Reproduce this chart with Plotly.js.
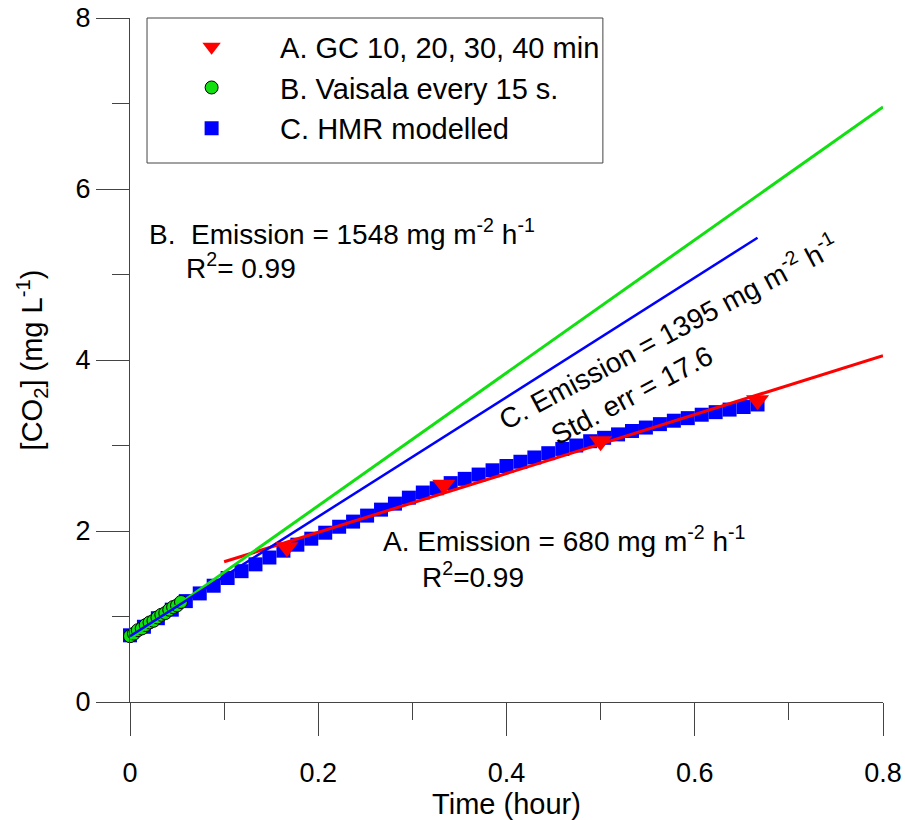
<!DOCTYPE html>
<html>
<head>
<meta charset="utf-8">
<script src="https://cdn.plot.ly/plotly-3.0.1.min.js"></script>
<style>html,body{margin:0;padding:0;background:#fff;}#chart{width:905px;height:820px;}</style>
</head>
<body>
<div id="chart"></div>
<script>
// ---- Data ----
// A. GC sampling at 10, 20, 30, 40 min
const gcTime = [0.1667, 0.3333, 0.5, 0.6667];
const gcCO2 = [1.81, 2.54, 3.05, 3.53];

// B. Vaisala probe every 15 s
const vaisalaTime = [0, 0.0042, 0.0083, 0.0125, 0.0167, 0.0208, 0.025, 0.0292, 0.0333, 0.0375, 0.0417, 0.0458, 0.05, 0.0542];
const vaisalaCO2 = [0.77, 0.80, 0.84, 0.86, 0.90, 0.93, 0.95, 0.99, 1.02, 1.04, 1.08, 1.11, 1.13, 1.17];

// C. HMR modelled
const hmrTime = [0, 0.0148, 0.0296, 0.0444, 0.0593, 0.0741, 0.0889, 0.1037, 0.1185, 0.1333,
  0.1481, 0.1630, 0.1778, 0.1926, 0.2074, 0.2222, 0.2370, 0.2519, 0.2667, 0.2815,
  0.2963, 0.3111, 0.3259, 0.3407, 0.3556, 0.3704, 0.3852, 0.4000, 0.4148, 0.4296,
  0.4444, 0.4593, 0.4741, 0.4889, 0.5037, 0.5185, 0.5333, 0.5481, 0.5630, 0.5778,
  0.5926, 0.6074, 0.6222, 0.6370, 0.6519, 0.6667];
const hmrCO2 = [0.78, 0.88, 0.98, 1.08, 1.18, 1.27, 1.36, 1.45, 1.53, 1.61,
  1.69, 1.77, 1.84, 1.91, 1.98, 2.05, 2.11, 2.18, 2.25, 2.32,
  2.39, 2.45, 2.50, 2.56, 2.61, 2.66, 2.71, 2.76, 2.81, 2.86,
  2.91, 2.96, 3.00, 3.05, 3.09, 3.13, 3.17, 3.21, 3.25, 3.29,
  3.32, 3.36, 3.39, 3.42, 3.45, 3.48];

// Fitted lines (end points)
const fitATime = [0.1, 0.8];
const fitACO2 = [1.64, 4.05];
const fitBTime = [0, 0.8];
const fitBCO2 = [0.74, 6.96];
const fitCTime = [0, 0.6667];
const fitCCO2 = [0.77, 5.43];

// Text
const legendNames = ["A. GC 10, 20, 30, 40 min", "B. Vaisala every 15 s.", "C. HMR modelled"];
const xTitle = "Time (hour)";
const yTitle = "[CO<sub>2</sub>] (mg L<sup>-1</sup>)";

const FONT = "Liberation Sans, Arial, sans-serif";
const FS = 27;   // tick labels
const FT = 29;   // titles, legend
const FA = 28;   // annotations
const GREEN = "#10e010";

const traces = [
  {x: hmrTime, y: hmrCO2, type: "scatter", mode: "markers", name: legendNames[2], legendrank: 3, legendgroup: "c",
   marker: {symbol: "square", size: 14, color: "#0000ff", line: {width: 0}}, cliponaxis: false},
  {x: vaisalaTime, y: vaisalaCO2, type: "scatter", mode: "markers", name: legendNames[1], legendrank: 2, legendgroup: "b",
   marker: {symbol: "circle", size: 13, color: GREEN, line: {width: 1, color: "#000"}}, cliponaxis: false},
  {x: fitATime, y: fitACO2, type: "scatter", mode: "lines", showlegend: false, line: {color: "#ff0000", width: 3}, cliponaxis: false},
  {x: fitBTime, y: fitBCO2, type: "scatter", mode: "lines", showlegend: false, line: {color: GREEN, width: 3}, cliponaxis: false},
  {x: fitCTime, y: fitCCO2, type: "scatter", mode: "lines", showlegend: false, line: {color: "#0000ff", width: 2.5}, cliponaxis: false},
  {x: gcTime, y: gcCO2, type: "scatter", mode: "markers", name: legendNames[0], legendrank: 1, legendgroup: "a",
   marker: {symbol: "triangle-down", size: 20, color: "#ff0000", line: {width: 0}}, cliponaxis: false}
];

const axisCommon = {
  showgrid: false, zeroline: false, showline: true, linecolor: "#444", linewidth: 1,
  ticks: "outside", ticklen: 33, tickwidth: 1, tickcolor: "#444",
  tickfont: {family: FONT, size: FS, color: "#000"}
};

const layout = {
  width: 905, height: 820,
  margin: {l: 130, r: 22, t: 18, b: 118, pad: 0},
  paper_bgcolor: "#fff", plot_bgcolor: "#fff",
  font: {family: FONT, size: FS, color: "#000"},
  showlegend: true,
  legend: {x: 0.0174, y: 0.995, xanchor: "left", yanchor: "top", bgcolor: "rgba(0,0,0,0)", borderwidth: 0,
           font: {family: FONT, size: FT, color: "#000"}, itemwidth: 127, tracegroupgap: 2, traceorder: "normal"},
  xaxis: Object.assign({}, axisCommon, {
    range: [0, 0.8], tick0: 0, dtick: 0.2, ticklabelstandoff: 14,
    minor: {dtick: 0.1, ticks: "outside", ticklen: 17, tickwidth: 1, tickcolor: "#444", showgrid: false},
    title: {text: xTitle, font: {family: FONT, size: FT, color: "#000"}, standoff: 2},
    automargin: false
  }),
  yaxis: Object.assign({}, axisCommon, {
    range: [0, 8], tick0: 0, dtick: 2, ticklabelstandoff: 0,
    minor: {dtick: 1, ticks: "outside", ticklen: 17, tickwidth: 1, tickcolor: "#444", showgrid: false},
    title: {text: yTitle, font: {family: FONT, size: FT, color: "#000"}, standoff: 24},
    automargin: false
  }),
  shapes: [
    {type: "rect", xref: "paper", yref: "paper", x0: 0.0226, x1: 0.628, y0: 0.788, y1: 1.0,
     line: {color: "#444", width: 1}, fillcolor: "rgba(0,0,0,0)"}
  ],
  annotations: [
    {x: 0.0181, y: 5.50, xref: "x", yref: "y", xanchor: "left", yanchor: "middle", showarrow: false,
     text: "B.  Emission = 1548 mg m<sup>-2</sup> h<sup>-1</sup>", font: {family: FONT, size: FA, color: "#000"}},
    {x: 0.0574, y: 5.10, xref: "x", yref: "y", xanchor: "left", yanchor: "middle", showarrow: false,
     text: "R<sup>2</sup>= 0.99", font: {family: FONT, size: FA, color: "#000"}},
    {x: 0.2667, y: 1.91, xref: "x", yref: "y", xanchor: "left", yanchor: "middle", showarrow: false,
     text: "A. Emission = 680 mg m<sup>-2</sup> h<sup>-1</sup>", font: {family: FONT, size: FA, color: "#000"}},
    {x: 0.3081, y: 1.48, xref: "x", yref: "y", xanchor: "left", yanchor: "middle", showarrow: false,
     text: "R<sup>2</sup>=0.99", font: {family: FONT, size: FA, color: "#000"}},
    {x: 0.5716, y: 4.339, xref: "x", yref: "y", xanchor: "center", yanchor: "middle", showarrow: false, textangle: -28,
     text: "C. Emission = 1395 mg m<sup>-2</sup> h<sup>-1</sup>", font: {family: FONT, size: FA, color: "#000"}},
    {x: 0.5330, y: 3.58, xref: "x", yref: "y", xanchor: "center", yanchor: "middle", showarrow: false, textangle: -28,
     text: "Std. err = 17.6", font: {family: FONT, size: FA, color: "#000"}}
  ]
};

Plotly.newPlot("chart", traces, layout, {displayModeBar: false, staticPlot: true});
</script>
</body>
</html>
